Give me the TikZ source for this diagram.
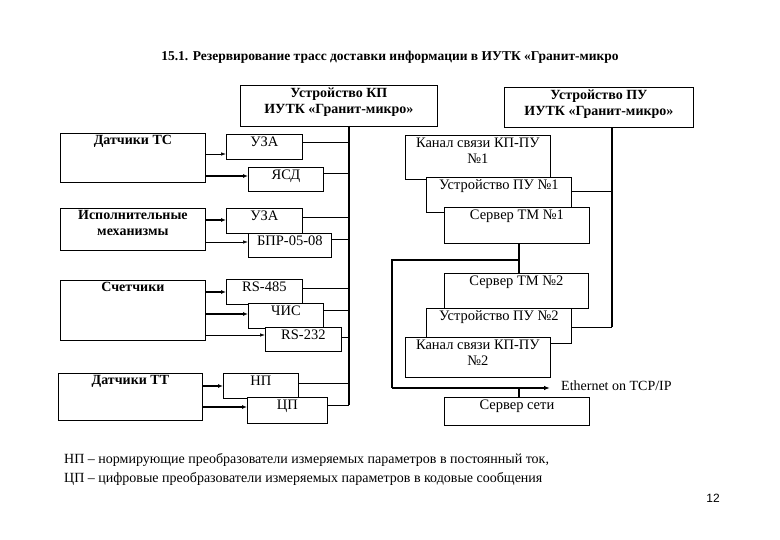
\documentclass[tikz,border=0pt]{standalone}
\usepackage{fontspec}
\setmainfont{Liberation Serif}
\newfontfamily\sanf{Liberation Sans}
\usetikzlibrary{arrows.meta}
\begin{document}
\begin{tikzpicture}[x=1pt,y=-1pt,
  box/.style={draw,fill=white,line width=0.8pt,inner sep=0pt},
  lbl/.style={anchor=north,align=center,inner sep=2.5pt,font=\fontsize{14.5}{16}\selectfont},
  blbl/.style={lbl,font=\bfseries\fontsize{14}{16}\selectfont},
  thin/.style={line width=0.7pt,-{Latex[length=5pt,width=3.5pt]}},
  thk/.style={line width=1.8pt,-{Latex[length=5pt,width=4pt]}},
  ln/.style={line width=0.7pt},
  bus/.style={line width=2pt}]
\useasboundingbox (0,0) rectangle (780,540);
\newcommand\bx[7][lbl]{\node[box,anchor=north west,minimum width={(#5-#3)*1pt},minimum height={(#6-#4)*1pt}] (#2) at (#3,#4) {};
  \node[#1] at (#2.north) {#7};}
\node[font=\bfseries\fontsize{13.5}{15}\selectfont] (title) at (390,57) {15.1. Резервирование трасс доставки информации в ИУТК «Гранит-микро};
% left
\bx[blbl]{kp}{240}{85}{437}{126}{Устройство КП\\ИУТК «Гранит-микро»}
\bx[blbl]{ts}{60}{133}{205}{182}{Датчики ТС}
\bx{uza1}{226}{134}{302}{159}{УЗА}
\bx{ysd}{248}{167}{323}{191}{ЯСД}
\bx[blbl]{im}{60}{208}{205}{250}{Исполнительные\\механизмы}
\bx{uza2}{226}{208}{302}{233}{УЗА}
\bx{bpr}{248}{233}{331}{257}{БПР-05-08}
\bx[blbl]{sch}{60}{280}{205}{340}{Счетчики}
\bx{rs485}{226}{279}{302}{304}{RS-485}
\bx{chis}{248}{303}{323}{328}{ЧИС}
\bx{rs232}{265}{327}{341}{351}{RS-232}
\bx[blbl]{tt}{58}{373}{202}{420}{Датчики ТТ}
\bx{np}{223}{373}{298}{398}{НП}
\bx{cp}{247}{397}{327}{423}{ЦП}
\coordinate (kpb) at (349,126);
\coordinate (kpe) at (349,405);
\draw[bus] (kpb) -- (kpe);
\foreach \n/\y in {uza1/142,ysd/173,uza2/217,bpr/239,rs485/288,chis/310,rs232/337,np/383}
  \draw[ln] (\n.east |- 0,\y) -- (kpb |- 0,\y);
\draw[ln] (cp.east |- 0,405) -- (kpe);
\draw[thin] (ts.east |- 0,154) -- (uza1.west |- 0,154);
\draw[thk] (ts.east |- 0,176) -- (ysd.west |- 0,176);
\draw[thk] (im.east |- 0,220) -- (uza2.west |- 0,220);
\draw[thin] (im.east |- 0,242) -- (bpr.west |- 0,242);
\draw[thk] (sch.east |- 0,292) -- (rs485.west |- 0,292);
\draw[thk] (sch.east |- 0,314) -- (chis.west |- 0,314);
\draw[thin] (sch.east |- 0,335) -- (rs232.west |- 0,335);
\draw[thk] (tt.east |- 0,386) -- (np.west |- 0,386);
\draw[thk] (tt.east |- 0,407) -- (cp.west |- 0,407);
% right
\bx[blbl]{pu}{504}{87}{693}{127}{Устройство ПУ\\ИУТК «Гранит-микро»}
\bx{k1}{405}{135}{550}{179}{Канал связи КП-ПУ\\№1}
\bx{pu1}{426}{177}{571}{212}{Устройство ПУ №1}
\bx{tm1}{444}{207}{589}{243}{Сервер ТМ №1}
\bx{tm2}{444}{273}{588}{308}{Сервер ТМ №2}
\bx{pu2}{426}{308}{571}{343}{Устройство ПУ №2}
\bx{k2}{405}{337}{550}{377}{Канал связи КП-ПУ\\№2}
\bx{srv}{444}{397}{589}{425}{Сервер сети}
\coordinate (pub) at (612,327);
\draw[bus] (pu.south -| pub) -- (pub);
\draw[ln] (pu1.east |- 0,191) -- (pub |- 0,191);
\draw[ln] (pu2.east |- 0,327) -- (pub);
\coordinate (j) at (519,260);
\coordinate (c1) at (392,260);
\coordinate (c2) at (392,388);
\coordinate (eth) at (550,388);
\draw[bus] (tm1.south -| j) -- (tm2.north -| j);
\draw[bus] (j) -- (c1) -- (c2);
\draw[line width=2pt,-{Latex[length=6pt,width=4.5pt]}] (c2) -- (eth);
\draw[bus] (j |- c2) -- (srv.north -| j);
\node[anchor=west,font=\fontsize{14}{15}\selectfont,inner sep=1pt] (ethl) at (560,386) {Ethernet on TCP/IP};
% notes
\node[anchor=north west,align=left,font=\fontsize{14}{19}\selectfont,inner sep=0pt] (note) at (64,453) {НП – нормирующие преобразователи измеряемых параметров в постоянный ток,\\ЦП – цифровые преобразователи измеряемых параметров в кодовые сообщения};
\node[font=\sanf\fontsize{12}{13}\selectfont] (pg) at (713,498) {12};
\end{tikzpicture}
\end{document}
